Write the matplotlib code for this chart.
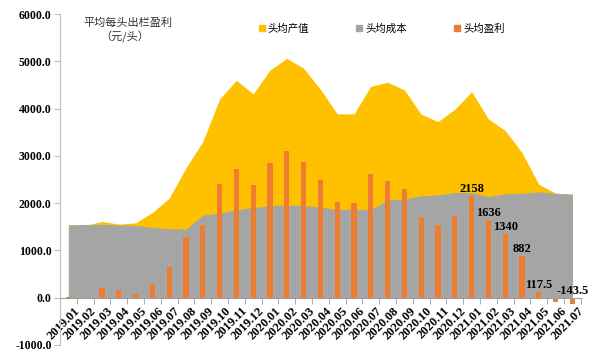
import matplotlib.pyplot as plt
import matplotlib as mpl
from matplotlib.lines import Line2D
import numpy as np

months = ['2019.01', '2019.02', '2019.03', '2019.04', '2019.05', '2019.06', '2019.07',
          '2019.08', '2019.09', '2019.10', '2019.11', '2019.12', '2020.01', '2020.02',
          '2020.03', '2020.04', '2020.05', '2020.06', '2020.07', '2020.08', '2020.09',
          '2020.10', '2020.11', '2020.12', '2021.01', '2021.02', '2021.03', '2021.04',
          '2021.05', '2021.06', '2021.07']

# 头均产值
value = [1550, 1530, 1612, 1556, 1583, 1803, 2106, 2747, 3303, 4204, 4600, 4310,
         4817, 5064, 4853, 4409, 3888, 3888, 4472, 4557, 4395, 3881, 3725, 3987,
         4359, 3782, 3535, 3070, 2400, 2210, 2190]
# 头均成本
cost = [1536, 1550, 1550, 1540, 1530, 1486, 1458, 1450, 1747, 1789, 1860, 1908,
        1944, 1958, 1950, 1916, 1860, 1874, 1860, 2070, 2084, 2155, 2175, 2225,
        2225, 2140, 2200, 2210, 2240, 2210, 2190]
# 头均盈利
profit = [20, -30, 200, 170, 70, 290, 640, 1283, 1530, 2395, 2720, 2387,
          2860, 3106, 2870, 2493, 2028, 2007, 2620, 2472, 2303, 1711, 1528, 1733,
          2158, 1636, 1340, 882, 117.5, -100, -143.5]
labelled = {24: '2158', 25: '1636', 26: '1340', 27: '882', 28: '117.5', 30: '-143.5'}

cjk = ['Noto Sans CJK SC', 'DejaVu Sans']
serif = 'Liberation Serif'

fig = plt.figure(figsize=(6, 3.52), dpi=100)
ax = fig.add_axes([0.1, 0.02, 0.868, 0.94])

x = np.arange(len(months))
ax.fill_between(x, 0, value, color='#FFC000', linewidth=0, zorder=1)
ax.fill_between(x, 0, cost, color='#A5A5A5', linewidth=0, zorder=2)
ax.bar(x, profit, width=0.3, color='#ED7D31', zorder=3)

for i, txt in labelled.items():
    ax.text(x[i], max(profit[i], 0) + 20, txt, ha='center', va='bottom',
            fontsize=9, fontweight='bold', family=serif, zorder=5)

ax.set_xlim(-0.5, len(months) - 0.5)
ax.set_ylim(-1000, 6000)
ax.set_yticks(range(-1000, 6001, 1000))
ax.set_yticklabels(['%.1f' % v for v in range(-1000, 6001, 1000)],
                   fontsize=8.5, fontweight='bold', family=serif)

ax.spines['top'].set_visible(False)
ax.spines['right'].set_visible(False)
ax.spines['left'].set_color('#BFBFBF')
ax.spines['bottom'].set_position(('data', 0))
ax.spines['bottom'].set_color('#A0A0A0')
ax.spines['bottom'].set_zorder(4)
ax.tick_params(axis='y', length=4, color='#BFBFBF', pad=2)

ax.set_xticks(x + 0.3)
ax.set_xticklabels(months, rotation=45, ha='right', rotation_mode='anchor',
                   fontsize=9, fontweight='bold', family=serif)
ax.set_xticks(np.arange(-0.5, len(months)), minor=True)
ax.tick_params(axis='x', which='major', length=0, pad=5)
ax.tick_params(axis='x', which='minor', length=4, color='#A0A0A0')

fig.text(0.213, 0.935, '平均每头出栏盈利', ha='center', va='center',
         fontsize=8, family=cjk, color='#333333')
fig.text(0.208, 0.895, '（元/头）', ha='center', va='center',
         fontsize=8, family=cjk, color='#333333')

handles = [Line2D([], [], marker='s', linestyle='none', markersize=4, color=c)
           for c in ['#FFC000', '#A5A5A5', '#ED7D31']]
fig.legend(handles, ['头均产值', '头均成本', '头均盈利'], loc='center left',
           bbox_to_anchor=(0.422, 1 - 29 / 352), ncol=3, frameon=False,
           handlelength=0.6, handletextpad=0.3, columnspacing=4.5, borderpad=0,
           prop={'family': cjk, 'size': 7.5})

fig.savefig('out.png', dpi=100)
